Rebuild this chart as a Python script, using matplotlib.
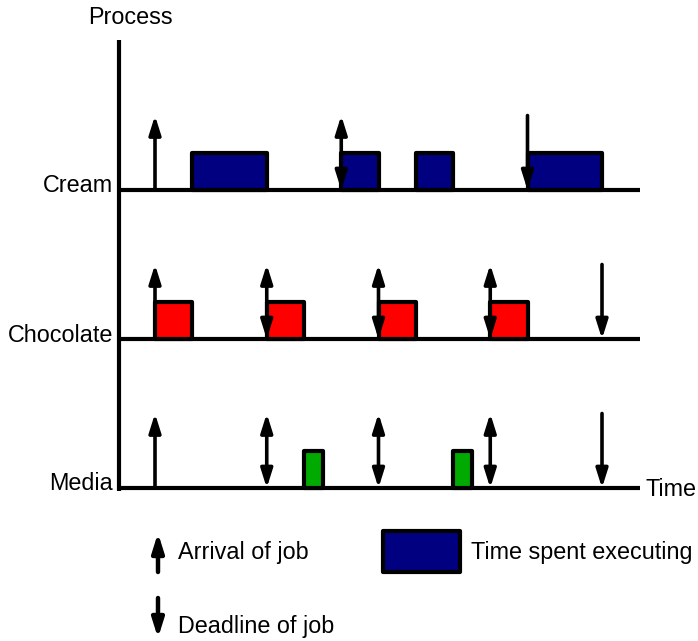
import matplotlib
matplotlib.use("Agg")
import matplotlib.pyplot as plt
from matplotlib.patches import Rectangle

plt.rcParams['font.family'] = ['Liberation Sans', 'DejaVu Sans']

# ---- data (time units) ----
processes = ["Cream", "Chocolate", "Media"]
colors = ["#000080", "#ff0000", "#00aa00"]
row_base = [8, 4, 0]

cream_arrivals = [0, 10]
cream_deadlines = [10, 20]
cream_exec = [(2, 4), (10, 2), (14, 2), (20, 4)]

choc_arrivals = [0, 6, 12, 18]
choc_deadlines = [6, 12, 18, 24]
choc_exec = [(0, 2), (6, 2), (12, 2), (18, 2)]

media_arrivals = [0, 6, 12, 18]
media_deadlines = [6, 12, 18, 24]
media_exec = [(8, 1), (16, 1)]

arrivals = [cream_arrivals, choc_arrivals, media_arrivals]
deadlines = [cream_deadlines, choc_deadlines, media_deadlines]
execs = [cream_exec, choc_exec, media_exec]

# pixel -> data helpers (x: 18.625 px per unit, t=0 at px 155; y: 37.25 px per unit, y=0 at px 488)
W, H = 698, 641
def px(x):
    return (x - 155) / 18.625
def py(y):
    return (488 - y) / 37.25

fig = plt.figure(figsize=(W / 100, H / 100), dpi=100)
ax = fig.add_axes([0, 0, 1, 1])
ax.set_xlim(px(0), px(W))
ax.set_ylim(py(H), py(0))
ax.axis("off")

LW = 3
RH = 1.0   # exec block height
AH = 2.0   # arrow height
FS = 16.8

def arrow(x, y0, y1, style, lw=2.6):
    ax.annotate("", xy=(x, y1), xytext=(x, y0),
                arrowprops=dict(arrowstyle=style + ",head_length=0.7,head_width=0.22",
                                lw=lw, color="black",
                                shrinkA=0, shrinkB=0, mutation_scale=16))

# vertical axis
ax.plot([px(119), px(119)], [py(40), py(491)], color="black", lw=LW, solid_capstyle="butt")

for name, col, base, arr, dl, ex in zip(processes, colors, row_base, arrivals, deadlines, execs):
    ax.plot([px(119), px(640)], [base, base], color="black", lw=LW, solid_capstyle="butt")
    for start, dur in ex:
        ax.add_patch(Rectangle((start, base), dur, RH, facecolor=col,
                               edgecolor="black", lw=LW, joinstyle="round", zorder=3))
    for t in sorted(set(arr) | set(dl)):
        if t in arr and t in dl:
            arrow(t, base, base + AH, "<|-|>")
        elif t in arr:
            arrow(t, base, base + AH, "-|>")
        else:
            arrow(t, base + AH, base, "-|>")
    ax.text(px(113), base + py(491) - py(495), name, ha="right", va="center", fontsize=FS)

ax.text(px(130), py(18), "Process", ha="center", va="center", fontsize=FS)
ax.text(px(646), py(489), "Time", ha="left", va="center", fontsize=FS)

# legend
arrow(px(158), py(572), py(533), "-|>", lw=3.2)
ax.text(px(178), py(552), "Arrival of job", ha="left", va="center", fontsize=FS)
arrow(px(158), py(598), py(638), "-|>", lw=3.2)
ax.text(px(178), py(626), "Deadline of job", ha="left", va="center", fontsize=FS)
ax.add_patch(Rectangle((px(383), py(572)), px(460) - px(383), py(531) - py(572),
                       facecolor=colors[0], edgecolor="black", lw=LW, joinstyle="round"))
ax.text(px(471), py(552), "Time spent executing", ha="left", va="center", fontsize=FS)

fig.savefig("out.png", dpi=100)
